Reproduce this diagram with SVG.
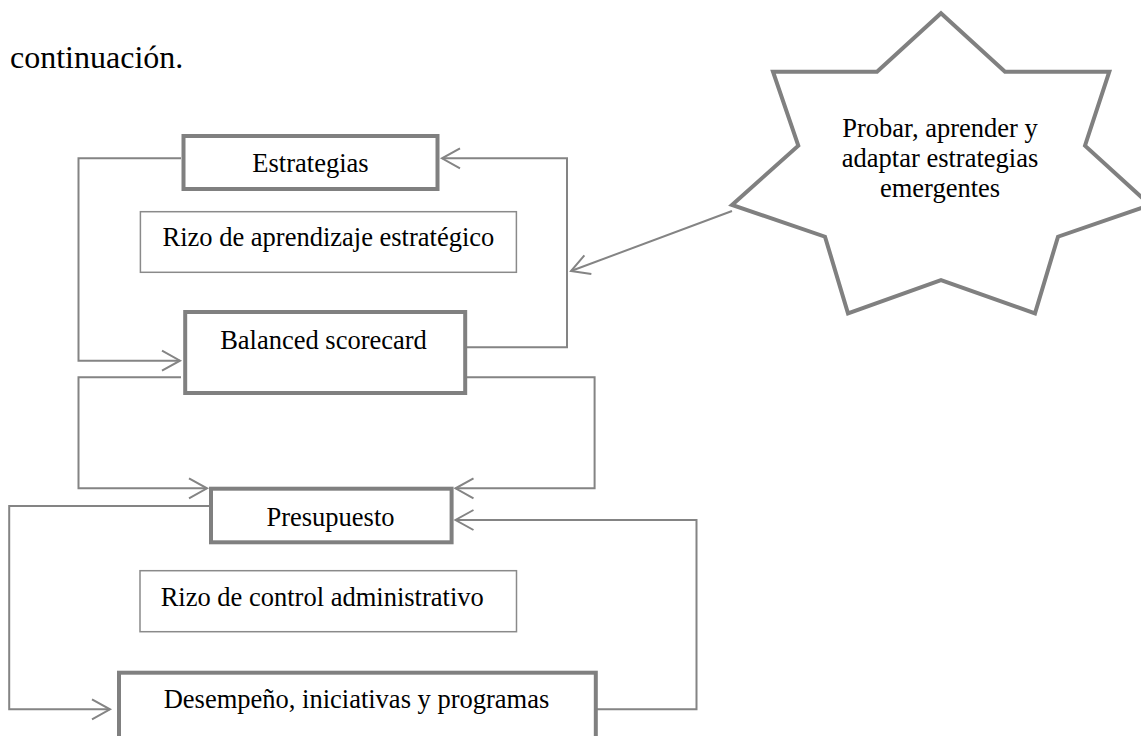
<svg xmlns="http://www.w3.org/2000/svg" width="1141" height="736" viewBox="0 0 1141 736">
<style>
  text { font-family: "Liberation Serif", "Times New Roman", serif; fill: #000; }
  .lbl { font-size: 26.5px; }
  .title { font-size: 32px; }
  .thick { fill: #fff; stroke: #808080; stroke-width: 4; }
  .thin { fill: #fff; stroke: #8a8a8a; stroke-width: 1.5; }
  .conn { fill: none; stroke: #848484; stroke-width: 2; marker-end: url(#arr); }
  .star { fill: #fff; stroke: #808080; stroke-width: 4; stroke-linejoin: miter; }
</style>
<defs>
  <marker id="arr" markerUnits="userSpaceOnUse" markerWidth="26" markerHeight="26" viewBox="-22 -13 24 26" refX="0" refY="0" orient="auto" overflow="visible">
    <path d="M-18,-10 L0,0 L-18,10" fill="none" stroke="#848484" stroke-width="2"/>
  </marker>
</defs>
<rect width="1141" height="736" fill="#fff"/>
<text class="title" x="10" y="68">continuación.</text>

<g id="connectors">
  <path class="conn" d="M467,347.3 H567 V158.3 H442"/>
  <path class="conn" d="M181,158.3 H78.5 V360.7 H180"/>
  <path class="conn" d="M732,211 L571,271"/>
  <path class="conn" d="M181,377.3 H78.5 V488.3 H207"/>
  <path class="conn" d="M466,377.3 H594.6 V488.3 H455.5"/>
  <path class="conn" d="M597,709.3 H696.5 V520 H455.5"/>
  <path class="conn" d="M209,506 H9.2 V709.3 H110"/>
</g>

<g id="estrategias">
  <rect class="thick" x="183.5" y="136" width="254" height="53"/>
  <text class="lbl" x="310.5" y="171.7" text-anchor="middle">Estrategias</text>
</g>
<g id="rizo-aprendizaje">
  <rect class="thin" x="140.4" y="211.7" width="376" height="60.6"/>
  <text class="lbl" x="328.4" y="246" text-anchor="middle">Rizo de aprendizaje estratégico</text>
</g>
<g id="balanced">
  <rect class="thick" x="185.2" y="312" width="280" height="81"/>
  <text class="lbl" x="323.5" y="349.3" text-anchor="middle">Balanced scorecard</text>
</g>
<g id="presupuesto">
  <rect class="thick" x="211" y="488.7" width="240.6" height="53.6"/>
  <text class="lbl" x="330.5" y="525.7" text-anchor="middle">Presupuesto</text>
</g>
<g id="rizo-control">
  <rect class="thin" x="140" y="570.7" width="376.5" height="61"/>
  <text class="lbl" x="160.7" y="606">Rizo de control administrativo</text>
</g>
<g id="desempeno">
  <rect class="thick" x="119" y="672.7" width="476.8" height="80"/>
  <text class="lbl" x="356.5" y="708.3" text-anchor="middle">Desempeño, iniciativas y programas</text>
</g>
<g id="star">
  <polygon class="star" points="941,13.3 1005,71.7 1109.3,71.7 1085,145.7 1150,205 1058,236.7 1035,313.3 941,280 848,313.3 825,236.7 732,205 798.3,145.7 773,71.7 877,71.7"/>
  <text class="lbl" x="940" y="136.7" text-anchor="middle">Probar, aprender y</text>
  <text class="lbl" x="940" y="166.7" text-anchor="middle">adaptar estrategias</text>
  <text class="lbl" x="940" y="196.7" text-anchor="middle">emergentes</text>
</g>
</svg>
